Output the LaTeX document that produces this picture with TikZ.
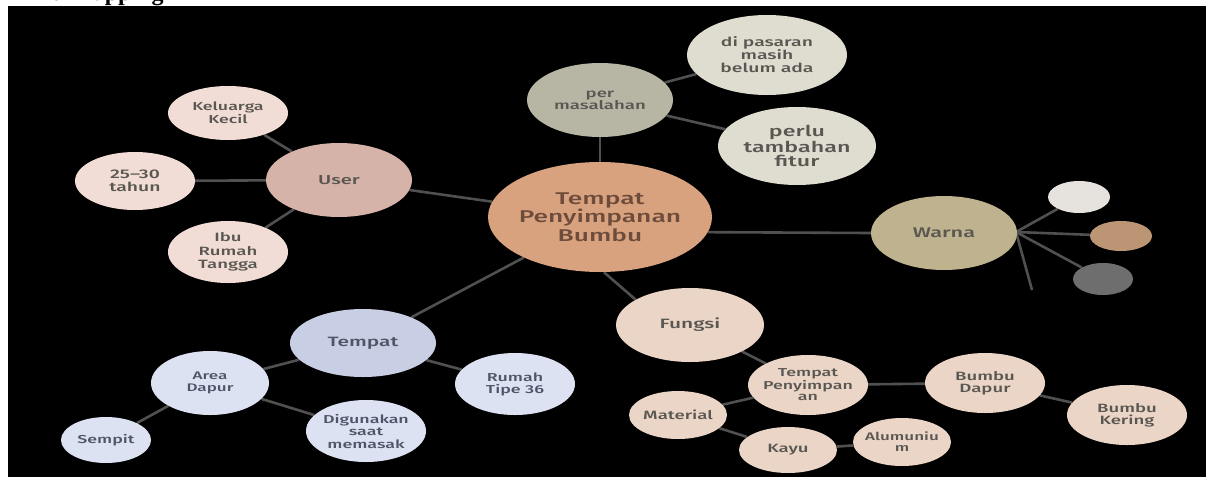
\documentclass[tikz,border=0pt]{standalone}
\usepackage{fontspec}
\setmainfont{Fira Sans}[UprightFont=* Medium, FakeStretch=1.55]
\newfontfamily\titlefont{Liberation Serif}
\usetikzlibrary{shapes.geometric,backgrounds}
\definecolor{cCenter}{HTML}{D9A27F}
\definecolor{cCenterTxt}{HTML}{6E4C3C}
\definecolor{cPer}{HTML}{B7B6A4}
\definecolor{cPerLeaf}{HTML}{DEDDD0}
\definecolor{cWarna}{HTML}{BFB28E}
\definecolor{cWhite}{HTML}{E6E3DE}
\definecolor{cTan}{HTML}{BC9674}
\definecolor{cGray}{HTML}{6E6E6E}
\definecolor{cUser}{HTML}{D6B3A8}
\definecolor{cUserLeaf}{HTML}{F2DDD6}
\definecolor{cTempat}{HTML}{C8CFE4}
\definecolor{cTempatLeaf}{HTML}{DDE2F2}
\definecolor{cTempatTxt}{HTML}{4F5468}
\definecolor{cFungsi}{HTML}{EAD5C6}
\definecolor{cTxt}{HTML}{5A5753}
\definecolor{cLine}{HTML}{505050}
\newcommand{\fs}[2]{\fontsize{#1}{#2}\selectfont}
\begin{document}
\begin{tikzpicture}[x=1pt,y=-1pt,
  bub/.style={ellipse, draw=none, inner xsep=-30pt, inner ysep=-15pt, align=center, text=cTxt},
  conn/.style={draw=cLine, line width=2.6pt}]
\useasboundingbox (0,0) rectangle (1206,477);
\clip (0,0) rectangle (1206,477);
\node[anchor=base west, inner sep=0pt, font=\titlefont\bfseries\fs{24}{24}] (title) at (8,0.5) {Mind Mapping};

% center
\node[bub, fill=cCenter, text=cCenterTxt, minimum width=224pt, minimum height=110pt, font=\fs{17}{18.5}] (center) at (600,217) {Tempat\\Penyimpanan\\Bumbu};
% per masalahan
\node[bub, fill=cPer, minimum width=146pt, minimum height=74pt, font=\fs{12}{12}] (per) at (600,100) {per\\masalahan};
\node[bub, fill=cPerLeaf, minimum width=160pt, minimum height=80pt, font=\fs{12.5}{13}] (pasar) at (767,55) {di pasaran\\masih\\belum ada};
\node[bub, fill=cPerLeaf, minimum width=158pt, minimum height=78pt, font=\fs{15}{14.5}] (fitur) at (797,146) {perlu\\tambahan\\fitur};
% warna
\node[bub, fill=cWarna, minimum width=146pt, minimum height=74pt, font=\fs{14}{14}] (warna) at (944,233) {Warna};
\node[bub, fill=cWhite, minimum width=62pt, minimum height=32pt] (cw) at (1079,197) {};
\node[bub, fill=cTan, minimum width=62pt, minimum height=30pt] (ct) at (1121,236) {};
\node[bub, fill=cGray, minimum width=60pt, minimum height=32pt] (cg) at (1103,279) {};
\coordinate (wp) at (1016,232);
\coordinate (wend) at (1032,290);
% user
\node[bub, fill=cUser, minimum width=146pt, minimum height=74pt, font=\fs{13}{13}] (user) at (339,180) {User};
\node[bub, fill=cUserLeaf, minimum width=120pt, minimum height=54pt, font=\fs{11.5}{11}] (kel) at (228,113) {Keluarga\\Kecil};
\node[bub, fill=cUserLeaf, minimum width=120pt, minimum height=58pt, font=\fs{12.5}{13}] (umur) at (135,181) {25--30\\tahun};
\node[bub, fill=cUserLeaf, minimum width=120pt, minimum height=62pt, font=\fs{12}{13.5}] (ibu) at (228,252) {Ibu\\Rumah\\Tangga};
% tempat
\node[bub, fill=cTempat, text=cTempatTxt, minimum width=146pt, minimum height=68pt, font=\fs{13.5}{13.5}] (tempat) at (363,343) {Tempat};
\node[bub, fill=cTempatLeaf, text=cTempatTxt, minimum width=118pt, minimum height=64pt, font=\fs{11}{12}] (area) at (210,383) {Area\\Dapur};
\node[bub, fill=cTempatLeaf, text=cTempatTxt, minimum width=90pt, minimum height=46pt, font=\fs{11.5}{12}] (sempit) at (106,440) {Sempit};
\node[bub, fill=cTempatLeaf, text=cTempatTxt, minimum width=120pt, minimum height=62pt, font=\fs{11.5}{12.5}] (digun) at (366,431) {Digunakan\\saat\\memasak};
\node[bub, fill=cTempatLeaf, text=cTempatTxt, minimum width=120pt, minimum height=62pt, font=\fs{11.5}{12}] (rumah) at (515,384) {Rumah\\Tipe 36};
% fungsi
\node[bub, fill=cFungsi, minimum width=148pt, minimum height=74pt, font=\fs{13.5}{13.5}] (fungsi) at (690,325) {Fungsi};
\node[bub, fill=cFungsi, minimum width=120pt, minimum height=60pt, font=\fs{11.5}{11.5}] (tp) at (808,385) {Tempat\\Penyimpan\\an};
\node[bub, fill=cFungsi, minimum width=98pt, minimum height=48pt, font=\fs{12}{12}] (material) at (678,415) {Material};
\node[bub, fill=cFungsi, minimum width=98pt, minimum height=46pt, font=\fs{12}{12}] (kayu) at (788,450) {Kayu};
\node[bub, fill=cFungsi, minimum width=98pt, minimum height=48pt, font=\fs{11}{11}] (alum) at (902,442) {Alumuniu\\m};
\node[bub, fill=cFungsi, minimum width=120pt, minimum height=60pt, font=\fs{12}{12}] (bd) at (985,383) {Bumbu\\Dapur};
\node[bub, fill=cFungsi, minimum width=120pt, minimum height=60pt, font=\fs{12}{12}] (bk) at (1127,415) {Bumbu\\Kering};

\begin{pgfonlayer}{background}
\fill[black] (8,6) rectangle (1206,477);
\draw[conn] (center) -- (user);
\draw[conn] (center) -- (per);
\draw[conn] (center.-8) -- (warna.west);
\draw[conn] (center) -- (tempat);
\draw[conn] (center.-86) -- (fungsi.155);
\draw[conn] (per) -- (pasar);
\draw[conn] (per) -- (fitur);
\draw[conn] (wp) -- (cw);
\draw[conn] (wp) -- (ct);
\draw[conn] (wp) -- (cg);
\draw[conn] (wp) -- (wend);
\draw[conn] (user) -- (kel);
\draw[conn] (user) -- (umur);
\draw[conn] (user) -- (ibu);
\draw[conn] (tempat) -- (area);
\draw[conn] (tempat) -- (rumah);
\draw[conn] (area) -- (sempit);
\draw[conn] (area) -- (digun);
\draw[conn] (fungsi) -- (tp);
\draw[conn] (tp) -- (material);
\draw[conn] (tp) -- (bd);
\draw[conn] (material) -- (kayu);
\draw[conn] (kayu) -- (alum);
\draw[conn] (bd) -- (bk);
\end{pgfonlayer}
\end{tikzpicture}
\end{document}
